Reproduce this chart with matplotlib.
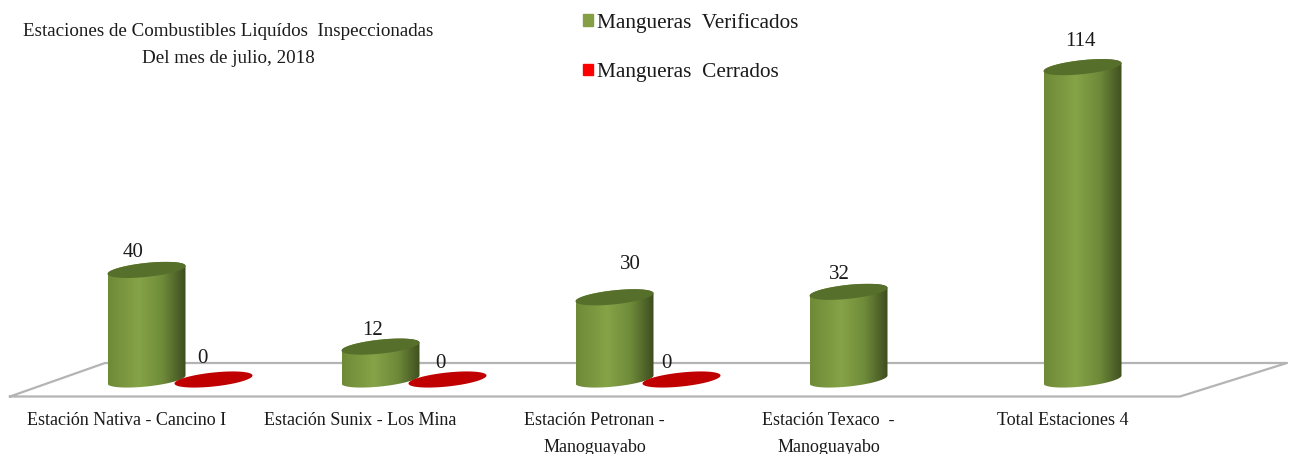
import numpy as np
import matplotlib
matplotlib.use("Agg")
import matplotlib.pyplot as plt
from matplotlib.colors import LinearSegmentedColormap
from matplotlib.patches import Patch, PathPatch
from matplotlib.path import Path

categories = ["Estación Nativa - Cancino I", "Estación Sunix - Los Mina",
              "Estación Petronan -\nManoguayabo", "Estación Texaco  -\nManoguayabo",
              "Total Estaciones 4"]
verificados = [40, 12, 30, 32, 114]
cerrados = [0, 0, 0, None, None]
series_names = ["Mangueras  Verificados", "Mangueras  Cerrados"]
title = "Estaciones de Combustibles Liquídos  Inspeccionadas\nDel mes de julio, 2018"

W, H = 1290, 454
PX_X, PX_Y = 234.0, 2.74      # pixels per category, pixels per unit
X0, Y0 = 146.5, 379.5         # pixel position of category 0, value 0
plt.rcParams['font.family'] = ['Liberation Serif', 'DejaVu Serif']
TXT = '#1a1a1a'

fig = plt.figure(figsize=(W / 100, H / 100), dpi=100)
ax = fig.add_axes([0, 0, 1, 1])
ax.set_axis_off()
xlim = (-X0 / PX_X, (W - X0) / PX_X)
ylim = ((Y0 - H) / PX_Y, Y0 / PX_Y)

# floor (pixels -> axes fraction)
def frac(p):
    return [(x / W, 1 - y / H) for x, y in p]
floor = frac([(10, 396.5), (105, 363), (1287, 363), (1180, 396.5), (10, 396.5)])
ax.plot(*zip(*floor), transform=ax.transAxes, color='#b4b4b4', lw=1.6, zorder=1)

A, B, RX = 4.0, 7.0, 39.0
def ellipse(cx, cy):
    t = np.linspace(0, 2 * np.pi, 121)
    return (cx + RX * np.cos(t) / PX_X,
            cy + (A * np.cos(t) + B * np.sin(t)) / PX_Y)

cyl = LinearSegmentedColormap.from_list('cyl', [(0, '#6f8a37'), (0.4, '#85a347'),
                                                (0.7, '#6f8b3a'), (1, '#3d4d1f')])
grad = np.linspace(0, 1, 256).reshape(1, -1)
for i, v in enumerate(verificados):
    xb, yb = ellipse(i, 0)
    xt, yt = ellipse(i, v)
    t = np.linspace(0, 2 * np.pi, 121)
    lower = np.sin(t) <= 0
    order = np.argsort(np.cos(t[lower]))
    bx, by = xb[lower][order], yb[lower][order]
    top_up = np.sin(t) >= 0
    order2 = np.argsort(-np.cos(t[top_up]))
    tx, ty = xt[top_up][order2], yt[top_up][order2]
    verts = np.column_stack([np.r_[bx, tx, bx[0]], np.r_[by, ty, by[0]]])
    clip = PathPatch(Path(verts), transform=ax.transData, fc='none', ec='none')
    ax.add_patch(clip)
    im = ax.imshow(grad, cmap=cyl, aspect='auto', zorder=2,
                   extent=(i - RX / PX_X, i + RX / PX_X, by.min(), ty.max()))
    im.set_clip_path(clip)
    ax.fill(xt, yt, color='#566f2b', lw=0, zorder=3)

for i, v in enumerate(cerrados):
    if v is None:
        continue
    xe, ye = ellipse(i + 67 / PX_X, v)
    ax.fill(xe, ye, color='#c00000', lw=0, zorder=4)

ax.set_xlim(xlim)
ax.set_ylim(ylim)

# value labels (offsets in points from the mark's top)
ver_off = [(-9.7, 12.5), (-5.8, 11.6), (11.5, 23.5), (-6.8, 12.4), (-1.8, 18.4)]
cer_off = [(-8.3, 15.2), (-5.4, 11.8), (-11.2, 11.8)]
for i, v in enumerate(verificados):
    ax.annotate(str(v), (i, v), xytext=ver_off[i], textcoords='offset points',
                ha='center', va='center', fontsize=15, color=TXT, zorder=5)
for i, v in enumerate(cerrados):
    if v is None:
        continue
    ax.annotate(str(v), (i + 67 / PX_X, v), xytext=cer_off[i], textcoords='offset points',
                ha='center', va='center', fontsize=15, color=TXT, zorder=5)

for i, c in enumerate(categories):
    ax.annotate(c, (i, 0), xytext=(-14.4, -23.5), textcoords='offset points',
                ha='center', va='top', fontsize=13, color=TXT, linespacing=1.73)

ax.text(228 / W, 1 - 45 / H, title, transform=ax.transAxes, ha='center', va='center',
        fontsize=13.7, color=TXT, linespacing=1.78, multialignment='center')

handles = [Patch(color='#85a044'), Patch(color='#ff0000')]
ax.legend(handles, series_names, loc='upper left', frameon=False,
          bbox_to_anchor=(583 / W, 1 - 13 / H), bbox_transform=ax.transAxes,
          fontsize=15.3, handlelength=0.47, handleheight=0.47, handletextpad=0.19,
          labelspacing=1.42, labelcolor=TXT, borderaxespad=0, borderpad=0)

fig.savefig('out.png', dpi=100)
